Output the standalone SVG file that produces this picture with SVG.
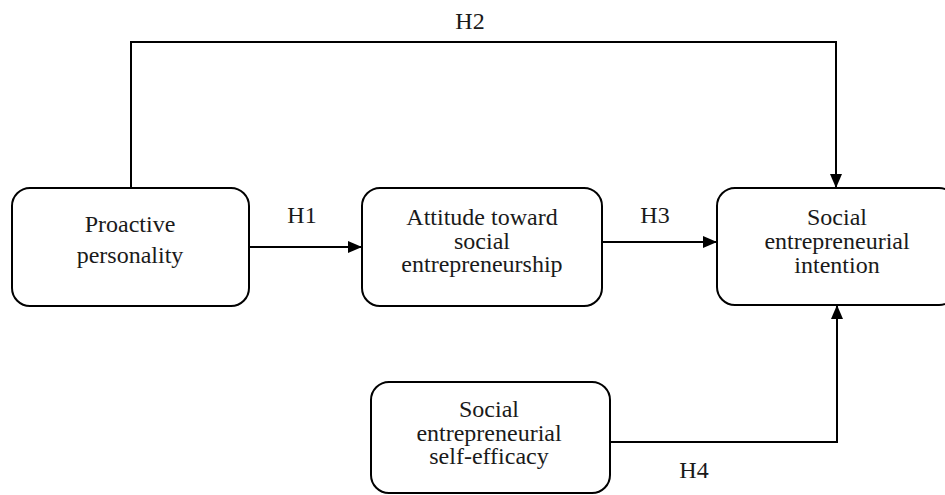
<svg xmlns="http://www.w3.org/2000/svg" width="945" height="495" viewBox="0 0 945 495">
<defs>
<style>
.box{fill:#fff;stroke:#000;stroke-width:2}
.t{font-family:"Liberation Serif","Times New Roman",serif;font-size:24px;fill:#1a1a1a;text-anchor:middle}
.c{fill:none;stroke:#000;stroke-width:2}
</style>
<marker id="ah" viewBox="0 0 14 12" refX="14" refY="6" markerWidth="14" markerHeight="12" markerUnits="userSpaceOnUse" orient="auto">
<path d="M0,0 L14,6 L0,12 Z" fill="#000"/>
</marker>
</defs>
<rect width="945" height="495" fill="#fff"/>
<g id="n1">
<rect class="box" x="12" y="188" width="237" height="118" rx="18"/>
<text class="t" x="130" y="232">Proactive</text>
<text class="t" x="130" y="263">personality</text>
</g>
<g id="n2">
<rect class="box" x="362" y="188" width="240" height="118" rx="18"/>
<text class="t" x="482" y="225">Attitude toward</text>
<text class="t" x="482" y="249">social</text>
<text class="t" x="482" y="272">entrepreneurship</text>
</g>
<g id="n3">
<rect class="box" x="717" y="188" width="240" height="117" rx="18"/>
<text class="t" x="837" y="225">Social</text>
<text class="t" x="837" y="249">entrepreneurial</text>
<text class="t" x="837" y="273">intention</text>
</g>
<g id="n4">
<rect class="box" x="371" y="382" width="239" height="111" rx="18"/>
<text class="t" x="489" y="417">Social</text>
<text class="t" x="489" y="441">entrepreneurial</text>
<text class="t" x="489" y="464">self-efficacy</text>
</g>
<g id="connectors">
<path class="c" d="M131,188 V42 H836 V188" marker-end="url(#ah)"/>
<path class="c" d="M249,247 H362" marker-end="url(#ah)"/>
<path class="c" d="M602,242 H717" marker-end="url(#ah)"/>
<path class="c" d="M610,442 H837 V305" marker-end="url(#ah)"/>
<text class="t" x="470" y="29">H2</text>
<text class="t" x="302" y="223">H1</text>
<text class="t" x="655" y="223">H3</text>
<text class="t" x="694" y="478">H4</text>
</g>
</svg>
